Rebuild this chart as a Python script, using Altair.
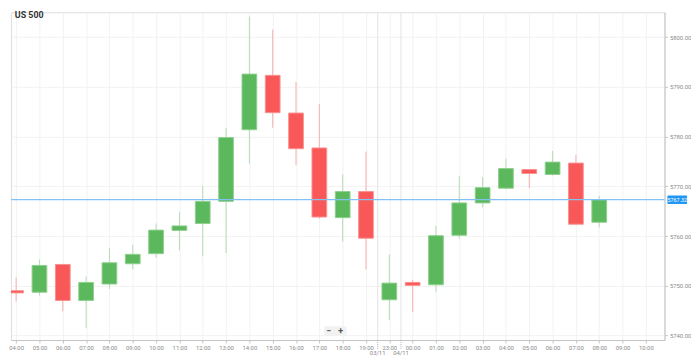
import altair as alt
import pandas as pd

# ---- data ----
tick_labels = ["04:00", "05:00", "06:00", "07:00", "08:00", "09:00", "10:00", "11:00",
               "12:00", "13:00", "14:00", "15:00", "16:00", "17:00", "18:00", "19:00",
               "23:00", "00:00", "01:00", "02:00", "03:00", "04:00", "05:00", "06:00",
               "07:00", "08:00", "09:00", "10:00"]

opens = [5749.03, 5748.72, 5754.30, 5747.06, 5750.36, 5754.44, 5756.47, 5761.14,
         5762.52, 5766.98, 5781.38, 5792.31, 5784.73, 5777.71, 5763.71, 5768.95,
         5747.20, 5750.69, 5750.22, 5760.16, 5766.67, 5769.63, 5773.37, 5772.39,
         5774.67, 5762.78]
highs = [5751.68, 5755.29, 5754.35, 5751.87, 5757.59, 5758.25, 5762.52, 5764.81,
         5770.08, 5781.78, 5804.14, 5801.50, 5790.99, 5786.51, 5772.39, 5776.98,
         5756.27, 5751.20, 5762.05, 5772.05, 5771.85, 5775.60, 5773.40, 5777.12,
         5776.33, 5768.11]
lows = [5746.86, 5748.05, 5744.89, 5741.48, 5749.37, 5753.31, 5755.62, 5757.12,
        5755.94, 5756.61, 5774.56, 5781.78, 5774.28, 5763.50, 5758.90, 5753.31,
        5743.12, 5744.77, 5748.84, 5759.43, 5765.80, 5769.43, 5769.63, 5772.19,
        5762.30, 5761.74]
closes = [5748.58, 5754.10, 5747.06, 5750.69, 5754.64, 5756.33, 5761.20, 5762.05,
          5766.98, 5779.80, 5792.56, 5784.81, 5777.57, 5763.83, 5768.95, 5759.57,
          5750.55, 5750.10, 5760.08, 5766.67, 5769.74, 5773.57, 5772.58, 5774.87,
          5762.39, 5767.32]

y_ticks = [5740, 5750, 5760, 5770, 5780, 5790, 5800]
current_price = 5767.32
date_positions = [15.5, 16.5]
date_labels = ["03/11", "04/11"]
title_text = "US 500"

# ---- tables ----
candles = pd.DataFrame({
    "idx": list(range(len(opens))),
    "open": opens, "high": highs, "low": lows, "close": closes,
})
candles["top"] = candles[["open", "close"]].max(axis=1)
candles["bot"] = candles[["open", "close"]].min(axis=1)

dates = pd.DataFrame({"idx": date_positions, "date": date_labels})
price = pd.DataFrame({"price": [current_price], "label": [f"{current_price:.2f}"]})

W, H = 666, 334
FONT = "Roboto"

label_expr = "[" + ",".join(f"'{t}'" for t in tick_labels) + "][datum.value]"

xscale = alt.Scale(domain=[-0.0124, 27.588], nice=False, zero=False)
yscale = alt.Scale(domain=[5739.11, 5804.99], nice=False, zero=False)

xaxis = alt.Axis(values=list(range(len(tick_labels))), labelExpr=label_expr, title=None,
                 grid=True, gridColor="#f2f2f2", domainColor="#c4c4c4", tickColor="#c4c4c4",
                 tickSize=3, labelFontSize=6, labelColor="#8a8a8a", labelPadding=2,
                 labelFlush=2, labelFont=FONT)
yaxis = alt.Axis(values=y_ticks, format=".2f", orient="right", title=None,
                 grid=True, gridColor="#f2f2f2", domainColor="#c4c4c4", tickColor="#c4c4c4",
                 tickSize=3, labelFontSize=6, labelColor="#8a8a8a", labelPadding=2,
                 labelFont=FONT)

X = alt.X("idx:Q", scale=xscale, axis=xaxis)

up_test = "datum.close >= datum.open"
body_color = alt.condition(up_test, alt.value("#5cb85c"), alt.value("#f85858"))
body_stroke = alt.condition(up_test, alt.value("#8fcf8f"), alt.value("#fb9090"))
wick_color = alt.condition(up_test, alt.value("#b3dcb3"), alt.value("#f7acac"))

base = alt.Chart(candles)

separators = alt.Chart(dates).mark_rule(color="#e2e2e2", strokeWidth=1).encode(x=X)
sep_ticks = alt.Chart(dates).mark_rule(color="#b0b0b0", strokeWidth=1, strokeDash=[1, 1]).encode(
    x=X, y=alt.value(H), y2=alt.value(H + 9))
sep_text = alt.Chart(dates).mark_text(fontSize=6, color="#8a8a8a", font=FONT, baseline="middle").encode(
    x=X, y=alt.value(H + 13), text="date:N")

wicks = base.mark_rule(strokeWidth=1, clip=True).encode(
    x=X,
    y=alt.Y("low:Q", scale=yscale, axis=yaxis),
    y2="high:Q",
    color=wick_color,
)
bodies = base.mark_bar(size=15, clip=True, strokeWidth=1, opacity=1).encode(
    x=X,
    y=alt.Y("bot:Q", scale=yscale, axis=yaxis),
    y2="top:Q",
    color=body_color,
    stroke=body_stroke,
)

price_line = alt.Chart(price).mark_rule(color="#82c2f2", strokeWidth=1.3).encode(
    y=alt.Y("price:Q", scale=yscale, axis=yaxis))
price_box = alt.Chart(price).transform_calculate(
    ptop="datum.price + 0.85", pbot="datum.price - 0.85"
).mark_rect(color="#2196f3", cornerRadius=1).encode(
    x=alt.value(W + 3), x2=alt.value(W + 23),
    y=alt.Y("ptop:Q", scale=yscale, axis=yaxis), y2="pbot:Q")
price_text = alt.Chart(price).mark_text(color="white", fontSize=5.5, font=FONT, baseline="middle", align="center").encode(
    x=alt.value(W + 13), y=alt.Y("price:Q", scale=yscale, axis=yaxis), text="label:N")

title = alt.Chart(pd.DataFrame({"t": [title_text]})).mark_text(
    fontSize=9, fontWeight="bold", font=FONT, color="#333333", align="left", baseline="alphabetic"
).encode(x=alt.value(4), y=alt.value(6), text="t:N")

zoom_box = alt.Chart(pd.DataFrame({"t": ["zoom"]})).mark_rect(color="#f2f2f2", cornerRadius=2).encode(
    x=alt.value(319), x2=alt.value(342), y=alt.value(320), y2=alt.value(330))
zoom_text = alt.Chart(pd.DataFrame({"t": ["−", "+"], "px": [324, 336]})).mark_text(
    fontSize=9, fontWeight="bold", font=FONT, color="#555555", baseline="middle"
).encode(x=alt.X("px:Q", scale=None, axis=None), y=alt.value(325), text="t:N")

chart = alt.layer(
    separators, sep_ticks, sep_text, wicks, bodies, price_line, price_box, price_text,
    title, zoom_box, zoom_text
).properties(
    width=W, height=H, padding={"left": 0, "top": 0, "right": 0, "bottom": 0}
).configure_view(stroke="#e6e6e6").configure(background="white")

chart.save("out.html", embed_options={"renderer": "svg", "actions": False})
